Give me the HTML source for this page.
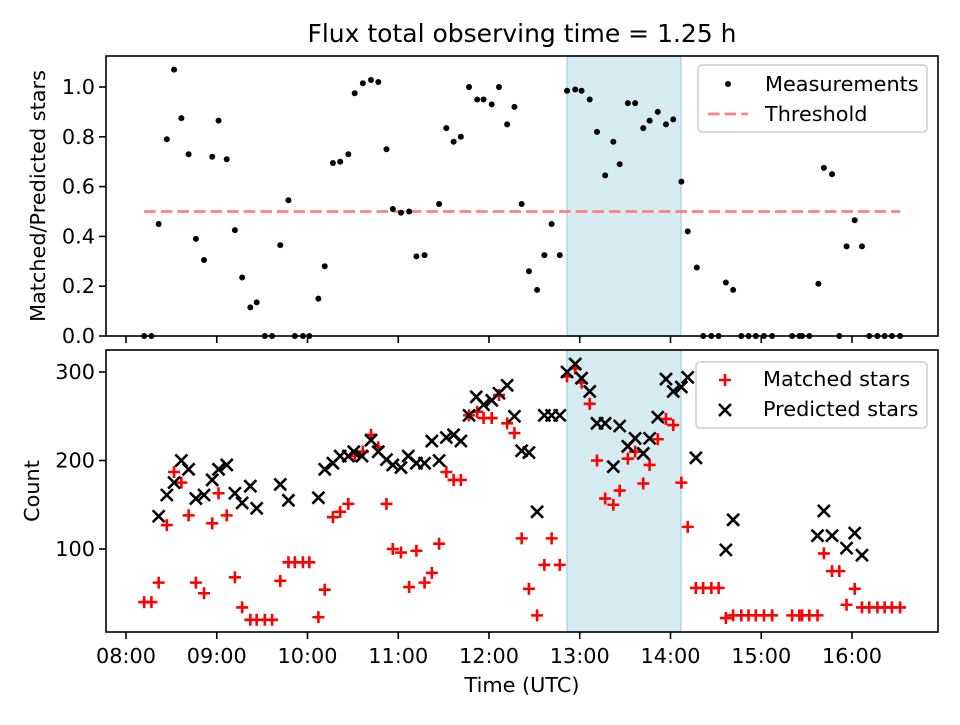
<!DOCTYPE html>
<html><head><meta charset="utf-8"><style>
body{margin:0;background:#fff;font-family:"Liberation Sans","DejaVu Sans",sans-serif}
svg text{font-family:"DejaVu Sans","Liberation Sans",sans-serif}
</style></head><body>
<svg id="c" width="960" height="720" viewBox="0 0 960 720" xmlns="http://www.w3.org/2000/svg"></svg>
<script>
const ratioTimes=[8.20,8.28,8.36,8.45,8.53,8.61,8.69,8.77,8.86,8.95,9.02,9.11,9.20,9.28,9.37,9.44,9.53,9.61,9.70,9.79,9.86,9.95,10.02,10.12,10.19,10.28,10.36,10.45,10.52,10.61,10.70,10.78,10.87,10.94,11.03,11.12,11.20,11.29,11.45,11.53,11.61,11.69,11.78,11.87,11.94,12.03,12.11,12.20,12.28,12.36,12.44,12.53,12.61,12.69,12.78,12.86,12.95,13.02,13.11,13.19,13.28,13.37,13.44,13.53,13.61,13.70,13.77,13.86,13.95,14.03,14.12,14.19,14.29,14.36,14.45,14.53,14.61,14.69,14.78,14.86,14.94,15.03,15.12,15.34,15.42,15.45,15.53,15.63,15.69,15.78,15.86,15.94,16.03,16.11,16.19,16.28,16.36,16.44,16.53];
const ratioValues=[0,0,0.45,0.79,1.07,0.875,0.73,0.39,0.305,0.72,0.865,0.71,0.425,0.235,0.115,0.135,0,0,0.365,0.545,0,0,0,0.15,0.28,0.695,0.70,0.73,0.975,1.015,1.028,1.02,0.75,0.51,0.495,0.50,0.32,0.325,0.53,0.835,0.78,0.80,1.0,0.95,0.95,0.93,1.0,0.85,0.92,0.53,0.26,0.185,0.325,0.45,0.325,0.985,0.99,0.985,0.95,0.82,0.645,0.78,0.69,0.935,0.935,0.835,0.865,0.90,0.85,0.87,0.62,0.42,0.275,0,0,0,0.215,0.185,0,0,0,0,0,0,0,0,0,0.21,0.675,0.65,0,0.36,0.465,0.36,0,0,0,0,0];
const matchedTimes=[8.20,8.28,8.36,8.45,8.53,8.61,8.69,8.77,8.86,8.95,9.02,9.11,9.20,9.28,9.37,9.44,9.53,9.61,9.70,9.79,9.86,9.95,10.02,10.12,10.19,10.28,10.36,10.45,10.52,10.61,10.70,10.78,10.87,10.94,11.03,11.12,11.20,11.29,11.37,11.45,11.53,11.61,11.69,11.78,11.87,11.94,12.03,12.11,12.20,12.28,12.36,12.44,12.53,12.61,12.69,12.78,12.86,12.95,13.02,13.11,13.19,13.28,13.37,13.44,13.53,13.61,13.70,13.77,13.86,13.95,14.03,14.12,14.19,14.28,14.36,14.45,14.53,14.61,14.69,14.78,14.86,14.94,15.03,15.12,15.34,15.42,15.45,15.53,15.62,15.69,15.78,15.86,15.94,16.03,16.11,16.19,16.28,16.36,16.44,16.53];
const matchedValues=[40,40,62,127,187,175,138,62,50,129,163,138,68,34,20,20,20,20,64,85,85,85,85,23,54,136,142,151,205,210,229,215,151,100,96,57,98,62,73,106,187,178,178,251,255,248,248,274,242,231,112,55,25,82,112,82,295,304,288,264,200,157,150,166,202,210,174,195,224,247,240,175,125,56,56,56,56,22,25,25,25,25,25,25,25,25,25,25,25,95,75,75,37,55,34,34,34,34,34,34];
const predictedTimes=[8.36,8.45,8.53,8.61,8.69,8.77,8.86,8.95,9.02,9.11,9.20,9.28,9.37,9.44,9.70,9.79,10.12,10.19,10.28,10.36,10.45,10.51,10.60,10.70,10.78,10.87,10.94,11.03,11.11,11.20,11.29,11.37,11.45,11.53,11.61,11.69,11.78,11.86,11.94,12.03,12.11,12.20,12.28,12.36,12.44,12.53,12.61,12.69,12.78,12.86,12.95,13.02,13.11,13.19,13.28,13.37,13.44,13.53,13.61,13.70,13.77,13.86,13.95,14.03,14.12,14.19,14.28,14.61,14.69,15.62,15.69,15.78,15.94,16.03,16.11];
const predictedValues=[137,161,175,200,190,157,161,178,190,195,163,152,171,146,173,155,158,190,197,205,205,210,205,223,210,201,195,192,205,197,197,222,200,226,229,222,251,272,263,268,276,285,250,211,209,142,251,251,251,300,309,293,278,242,242,193,239,216,225,208,225,249,292,278,283,294,203,99,133,115,143,115,101,118,93];
const xTickHours=[8,9,10,11,12,13,14,15,16];
const xTickLabels=["08:00","09:00","10:00","11:00","12:00","13:00","14:00","15:00","16:00"];
const ratioTicks=[0,0.2,0.4,0.6,0.8,1.0];
const countTicks=[100,200,300];
const threshold=0.5, thrStart=8.20, thrEnd=16.53;
const obsStart=12.86, obsEnd=14.115;

const NS="http://www.w3.org/2000/svg";
const svg=document.getElementById('c');
function el(tag,attrs,parent){const e=document.createElementNS(NS,tag);for(const k in attrs)e.setAttribute(k,attrs[k]);(parent||svg).appendChild(e);return e;}
const L=106,R=938;
const X=h=>126+(h-8)*90.75;
const Y1=v=>336-v*249;
const Y2=v=>549-(v-100)*0.885;
const FS=20.8;

let t=el('text',{x:522,y:42,'font-size':25,'text-anchor':'middle',fill:'#000'});t.textContent="Flux total observing time = 1.25 h";



function panel(top,bot,name){
  const g=el('g',{});
  
  
  const sh=el('rect',{x:X(obsStart),y:top,width:X(obsEnd)-X(obsStart),height:bot-top,fill:'#add8e6','fill-opacity':0.5,stroke:'#add8e6','stroke-width':1.5},g);
  
  
  return g;
}
function frame(g,top,bot){el('rect',{x:L,y:top,width:R-L,height:bot-top,fill:'none',stroke:'#000','stroke-width':1.6},g);}

const g1=panel(56,336,'ratio-panel');
const thr=el('line',{x1:X(thrStart),x2:X(thrEnd),y1:Y1(threshold),y2:Y1(threshold),stroke:'#ff8080','stroke-width':2.8,'stroke-dasharray':'11.6,5'},g1);


ratioTimes.forEach((h,i)=>{const c=el('circle',{cx:X(h),cy:Y1(ratioValues[i]),r:3,fill:'#000'},g1);

});
ratioTicks.forEach(v=>{el('line',{x1:L-7,x2:L,y1:Y1(v),y2:Y1(v),stroke:'#000','stroke-width':1.6},g1);
const tx=el('text',{x:L-11,y:Y1(v)+7,'font-size':FS,'text-anchor':'end'},g1);tx.textContent=v.toFixed(1);

});
xTickHours.forEach(h=>el('line',{x1:X(h),x2:X(h),y1:336,y2:343,stroke:'#000','stroke-width':1.6},g1));
frame(g1,56,336);
t=el('text',{x:0,y:0,'font-size':FS,'text-anchor':'middle',transform:'translate(45,196) rotate(-90)'},g1);t.textContent="Matched/Predicted stars";


const lg1=el('g',{},g1);


el('rect',{x:698,y:65,width:229,height:67,rx:4,fill:'#fff','fill-opacity':0.8,stroke:'#ccc','stroke-width':1.5},lg1);
el('circle',{cx:728,cy:84,r:3,fill:'#000'},lg1);
t=el('text',{x:765,y:91,'font-size':FS},lg1);t.textContent="Measurements";
el('line',{x1:708,x2:748,y1:114,y2:114,stroke:'#ff8080','stroke-width':2.8,'stroke-dasharray':'11.6,5'},lg1);
t=el('text',{x:765,y:121,'font-size':FS},lg1);t.textContent="Threshold";

const g2=panel(350,632,'count-panel');
function plus(x,y,p){el('path',{d:`M${x-6},${y}H${x+6}M${x},${y-6}V${y+6}`,stroke:'#f00','stroke-width':2.6},p);}
function cross(x,y,p){el('path',{d:`M${x-6},${y-6}L${x+6},${y+6}M${x-6},${y+6}L${x+6},${y-6}`,stroke:'#000','stroke-width':2.6},p);}
const mg=el('g',{},g2);


matchedTimes.forEach((h,i)=>plus(X(h),Y2(matchedValues[i]),mg));
const pg=el('g',{},g2);


predictedTimes.forEach((h,i)=>cross(X(h),Y2(predictedValues[i]),pg));
countTicks.forEach(v=>{el('line',{x1:L-7,x2:L,y1:Y2(v),y2:Y2(v),stroke:'#000','stroke-width':1.6},g2);
const tx=el('text',{x:L-11,y:Y2(v)+7,'font-size':FS,'text-anchor':'end'},g2);tx.textContent=v;

});
xTickHours.forEach((h,i)=>{el('line',{x1:X(h),x2:X(h),y1:632,y2:639,stroke:'#000','stroke-width':1.6},g2);
const tx=el('text',{x:X(h),y:663,'font-size':FS,'text-anchor':'middle'},g2);tx.textContent=xTickLabels[i];

});
frame(g2,350,632);
t=el('text',{x:0,y:0,'font-size':FS,'text-anchor':'middle',transform:'translate(39,491) rotate(-90)'},g2);t.textContent="Count";


t=el('text',{x:522,y:692,'font-size':FS,'text-anchor':'middle'},g2);t.textContent="Time (UTC)";


const lg2=el('g',{},g2);


el('rect',{x:696,y:362,width:231,height:66,rx:4,fill:'#fff','fill-opacity':0.8,stroke:'#ccc','stroke-width':1.5},lg2);
plus(725,380,lg2);
t=el('text',{x:763,y:386,'font-size':FS},lg2);t.textContent="Matched stars";
cross(725,410,lg2);
t=el('text',{x:763,y:416,'font-size':FS},lg2);t.textContent="Predicted stars";
</script>
</body></html>
